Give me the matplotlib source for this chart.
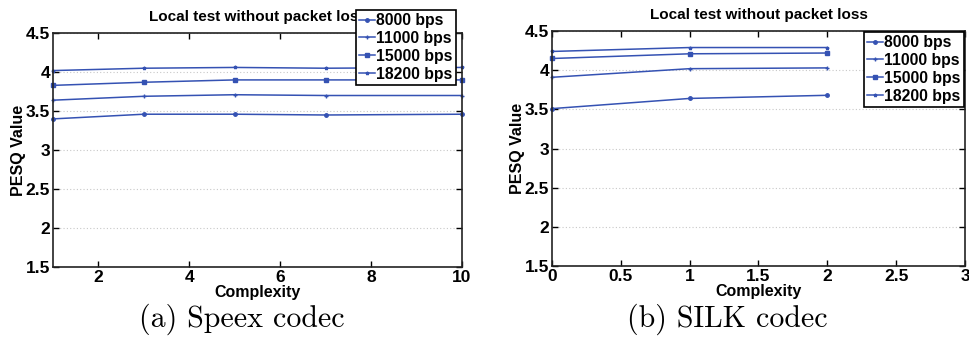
import matplotlib
matplotlib.use("Agg")
import matplotlib.pyplot as plt
from matplotlib.ticker import FormatStrFormatter

# ---- data ----
series_labels = ["8000 bps", "11000 bps", "15000 bps", "18200 bps"]

speex_x = [1, 3, 5, 7, 10]
speex_8000 = [3.40, 3.46, 3.46, 3.45, 3.46]
speex_11000 = [3.64, 3.69, 3.71, 3.70, 3.70]
speex_15000 = [3.83, 3.87, 3.90, 3.90, 3.90]
speex_18200 = [4.02, 4.05, 4.06, 4.05, 4.06]

silk_x = [0, 1, 2]
silk_8000 = [3.51, 3.64, 3.68]
silk_11000 = [3.91, 4.02, 4.03]
silk_15000 = [4.15, 4.21, 4.22]
silk_18200 = [4.24, 4.29, 4.29]

y_ticks = [1.5, 2, 2.5, 3, 3.5, 4, 4.5]
speex_xticks = [2, 4, 6, 8, 10]
silk_xticks = [0, 0.5, 1, 1.5, 2, 2.5, 3]

title = "Local test without packet loss"
xlabel = "Complexity"
ylabel = "PESQ Value"
captions = ["(a) Speex codec", "(b) SILK codec"]

# ---- style ----
plt.rcParams['font.family'] = ['Liberation Sans', 'DejaVu Sans']
plt.rcParams['font.weight'] = 'bold'
color = '#3552b3'
markers = ['o', '+', 's', '*']

fig = plt.figure(figsize=(9.7, 3.47), dpi=100)
ax1 = fig.add_axes([0.0546, 0.2305, 0.4216, 0.674])
ax2 = fig.add_axes([0.569, 0.2334, 0.4258, 0.677])

def setup(ax, xlim, xticks):
    ax.set_xlim(*xlim)
    ax.set_ylim(1.5, 4.5)
    ax.set_xticks(xticks)
    ax.set_yticks(y_ticks)
    ax.xaxis.set_major_formatter(FormatStrFormatter('%g'))
    ax.yaxis.set_major_formatter(FormatStrFormatter('%g'))
    ax.yaxis.grid(True, linestyle=(0, (1, 2)), color='#c8c8c8', linewidth=0.8)
    ax.set_axisbelow(True)
    ax.tick_params(direction='in', top=True, right=True, labelsize=12.5,
                   length=4, width=1, pad=2)
    for lab in ax.get_xticklabels() + ax.get_yticklabels():
        lab.set_fontweight('bold')
    for s in ax.spines.values():
        s.set_linewidth(1.2)
        s.set_color('#222222')
    ax.set_xlabel(xlabel, fontsize=11.5, fontweight='bold', labelpad=0)
    ax.set_ylabel(ylabel, fontsize=11.5, fontweight='bold', labelpad=0)
    ax.set_title(title, fontsize=11, fontweight='bold', pad=9)

speex_series = [speex_8000, speex_11000, speex_15000, speex_18200]
silk_series = [silk_8000, silk_11000, silk_15000, silk_18200]

h1 = []
for vals, m, lab in zip(speex_series, markers, series_labels):
    ln, = ax1.plot(speex_x, vals, color=color, marker=m, markersize=2.5,
                   linewidth=1.1, label=lab, clip_on=False)
    h1.append(ln)
h2 = []
for vals, m, lab in zip(silk_series, markers, series_labels):
    ln, = ax2.plot(silk_x, vals, color=color, marker=m, markersize=2.5,
                   linewidth=1.1, label=lab, clip_on=False)
    h2.append(ln)

setup(ax1, (1, 10), speex_xticks)
setup(ax2, (0, 3), silk_xticks)

leg_kw = dict(fontsize=11.3, frameon=True, fancybox=False, edgecolor='black',
              framealpha=1, handlelength=1.0, handletextpad=0.1,
              labelspacing=0.18, borderpad=0.2, borderaxespad=0)
l1 = ax1.legend(h1, series_labels, loc='upper right',
                bbox_to_anchor=(456 / 970, 1 - 10 / 347),
                bbox_transform=fig.transFigure, **leg_kw)
l2 = ax2.legend(h2, series_labels, loc='upper right',
                bbox_to_anchor=(964 / 970, 1 - 32 / 347),
                bbox_transform=fig.transFigure, **leg_kw)
for l in (l1, l2):
    l.get_frame().set_linewidth(1.2)
    l.set_zorder(10)
    for t in l.get_texts():
        t.set_fontweight('bold')

fig.text(242 / 970, 1 - 319 / 347, captions[0], family='cmr10',
         fontsize=21.5, ha='center', va='center', fontweight='normal')
fig.text(727 / 970, 1 - 319 / 347, captions[1], family='cmr10',
         fontsize=21.5, ha='center', va='center', fontweight='normal')

fig.savefig("out.png", dpi=100)
